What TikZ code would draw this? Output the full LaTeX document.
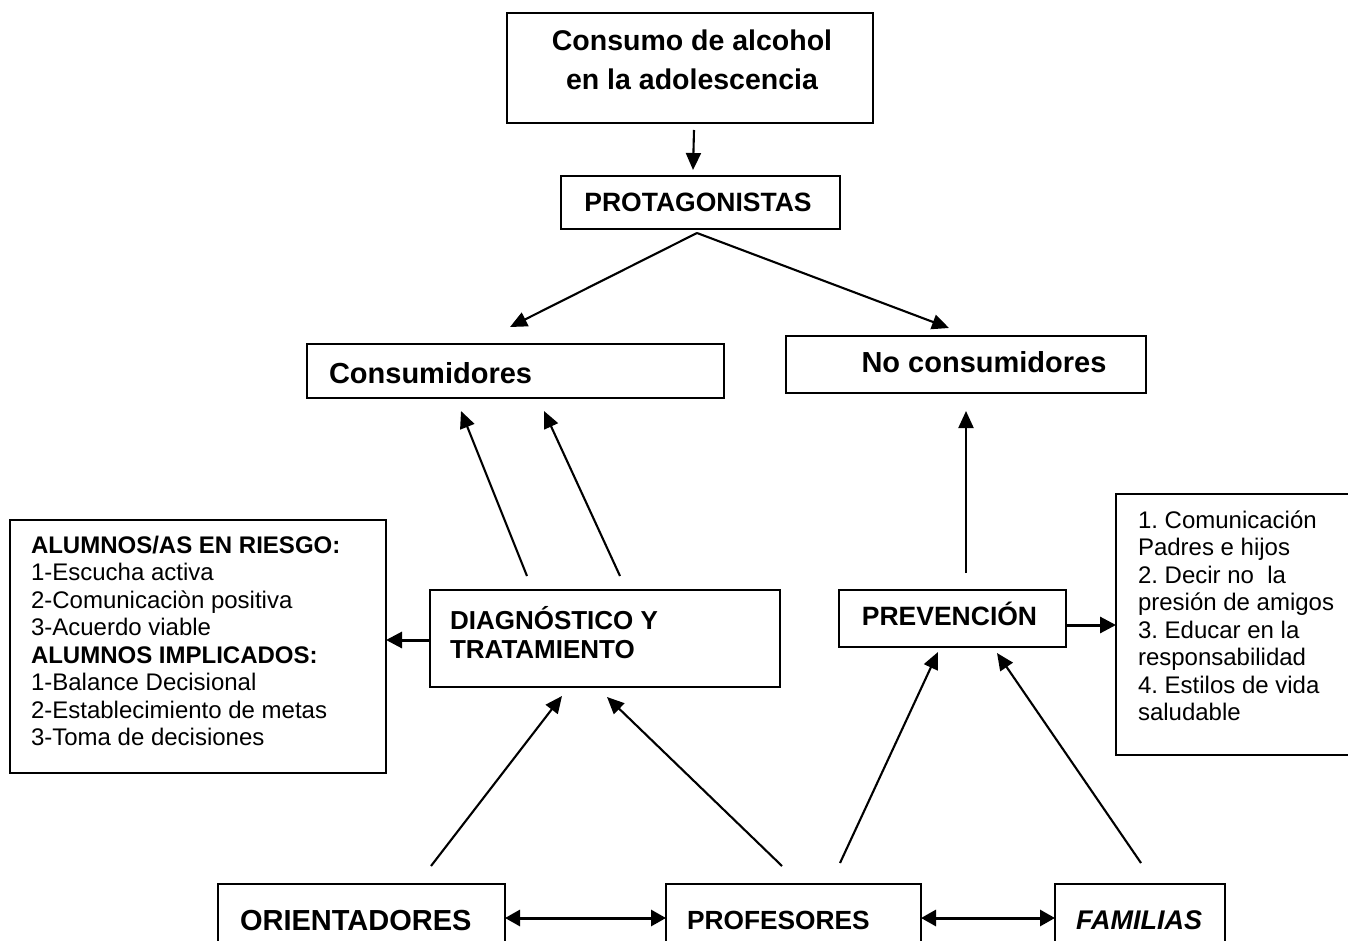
\documentclass[tikz,border=0pt]{standalone}
\usepackage{fontspec}
\setmainfont{Liberation Sans}
\usetikzlibrary{arrows.meta}
\frenchspacing
\begin{document}
\begin{tikzpicture}[x=1pt,y=-1pt,
  box/.style={draw, line width=1.8pt, anchor=north west, inner sep=0pt, outer sep=0pt},
  txt/.style={inner sep=0pt, outer sep=0pt},
  arr/.style={line width=2.1pt, -{Triangle[length=17pt,width=15pt]}},
  thickarr/.style={line width=3pt, -{Triangle[length=16pt,width=16pt]}},
  dblarr/.style={line width=3pt, {Triangle[length=15pt,width=16pt]}-{Triangle[length=15pt,width=16pt]}}]
\useasboundingbox (0,0) rectangle (1348,941);
\clip (0,0) rectangle (1348,941);
% boxes
\node[box, minimum width=366pt, minimum height=110pt] (top) at (507,13) {};
\node[box, minimum width=279pt, minimum height=53pt] (prot) at (561,176) {};
\node[box, minimum width=417pt, minimum height=54pt] (cons) at (307,344) {};
\node[box, minimum width=360pt, minimum height=57pt] (nocons) at (786,336) {};
\node[box, minimum width=376pt, minimum height=253pt] (alum) at (10,520) {};
\node[box, minimum width=350pt, minimum height=97pt] (diag) at (430,590) {};
\node[box, minimum width=227pt, minimum height=57pt] (prev) at (839,590) {};
\node[box, minimum width=260pt, minimum height=261pt] (rbox) at (1116,494) {};
\node[box, minimum width=287pt, minimum height=90pt] (ori) at (218,884) {};
\node[box, minimum width=255pt, minimum height=90pt] (prof) at (666,884) {};
\node[box, minimum width=170pt, minimum height=90pt] (fam) at (1055,884) {};
% texts
\node[txt, anchor=north, align=center, font=\fontsize{28.5}{38.6}\selectfont\bfseries] (ttop) at (692,23.7) {\strut Consumo de alcohol\\en la adolescencia};
\node[txt, anchor=base, font=\fontsize{26.5}{30}\selectfont\bfseries] (tprot) at (698,212) {PROTAGONISTAS};
\node[txt, anchor=base west, font=\fontsize{29}{33}\selectfont\bfseries] (tcons) at (329,383) {Consumidores};
\node[txt, anchor=base, font=\fontsize{29}{33}\selectfont\bfseries] (tnocons) at (984,372.7) {No consumidores};
\node[txt, anchor=north west, align=left, font=\fontsize{24}{27.5}\selectfont] (talum) at (31,533.75) {\strut\textbf{ALUMNOS/AS EN RIESGO:}\\1-Escucha activa\\2-Comunicaciòn positiva\\3-Acuerdo viable\\\textbf{ALUMNOS IMPLICADOS:}\\1-Balance Decisional\\2-Establecimiento de metas\\3-Toma de decisiones};
\node[txt, anchor=north west, align=left, font=\fontsize{26}{29}\selectfont\bfseries] (tdiag) at (450,606.4) {\strut DIAGNÓSTICO Y\\TRATAMIENTO};
\node[txt, anchor=base, font=\fontsize{26.5}{30}\selectfont\bfseries] (tprev) at (949.5,625.7) {PREVENCIÓN};
\node[txt, anchor=north west, align=left, font=\fontsize{24}{27.5}\selectfont] (trbox) at (1138,508.75) {\strut 1. Comunicación\\Padres e hijos\\2. Decir no\ \ la\\presión de amigos\\3. Educar en la\\responsabilidad\\4. Estilos de vida\\saludable};
\node[txt, anchor=base west, font=\fontsize{29}{33}\selectfont\bfseries] (tori) at (240,930.7) {ORIENTADORES};
\node[txt, anchor=base west, font=\fontsize{26.3}{30}\selectfont\bfseries] (tprof) at (687,929) {PROFESORES};
\node[txt, anchor=base west, font=\fontsize{27}{30}\selectfont\bfseries\itshape] (tfam) at (1076,929) {FAMILIAS};
% free connector ends
\coordinate (a1s) at (694,130);
\coordinate (a1e) at (693,170);
\coordinate (p0) at (697,233);
\coordinate (cL) at (510,327);
\coordinate (cR) at (949,328);
\coordinate (d1) at (527,576);
\coordinate (c1) at (461,411);
\coordinate (d2) at (620,576);
\coordinate (c2) at (544,411);
\coordinate (pv) at (966,573);
\coordinate (nc) at (966,411);
\coordinate (o1) at (431,866);
\coordinate (g1) at (562,696);
\coordinate (f1) at (782,866);
\coordinate (g2) at (607,697);
\coordinate (f2) at (840,863);
\coordinate (g3) at (938,652);
\coordinate (fa) at (1141,863);
\coordinate (g4) at (997,653);
% connectors
\draw[arr] (a1s) -- (a1e);
\draw[arr] (p0) -- (cL);
\draw[arr] (p0) -- (cR);
\draw[arr] (d1) -- (c1);
\draw[arr] (d2) -- (c2);
\draw[arr] (pv) -- (nc);
\draw[thickarr] (diag.west |- 0,640) -- (alum.east |- 0,640);
\draw[thickarr] (prev.east |- 0,625) -- (rbox.west |- 0,625);
\draw[arr] (o1) -- (g1);
\draw[arr] (f1) -- (g2);
\draw[arr] (f2) -- (g3);
\draw[arr] (fa) -- (g4);
\draw[dblarr] (ori.east |- 0,918) -- (prof.west |- 0,918);
\draw[dblarr] (prof.east |- 0,918) -- (fam.west |- 0,918);
\end{tikzpicture}
\end{document}
